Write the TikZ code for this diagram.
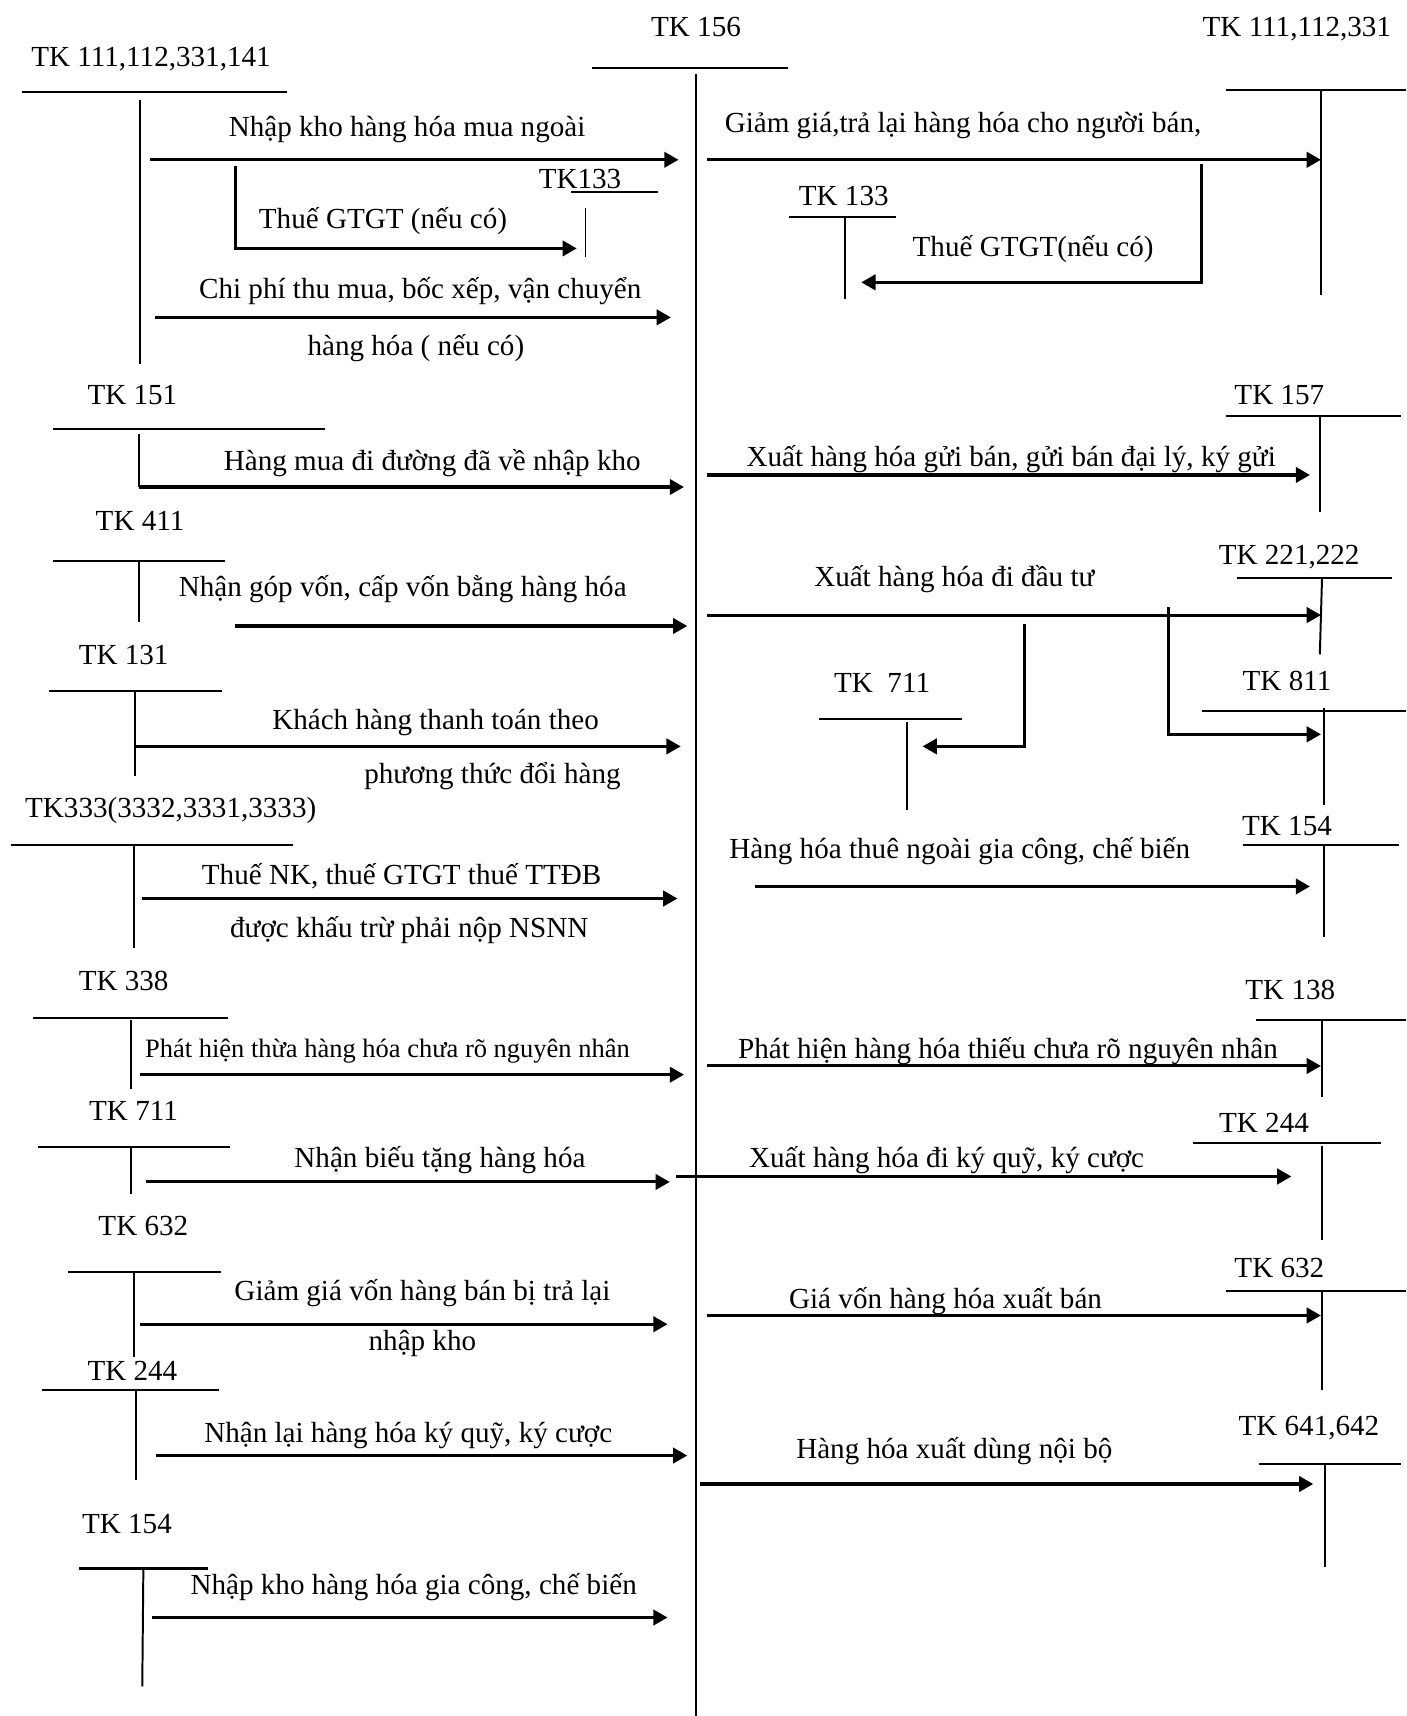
\documentclass[tikz,border=0pt]{standalone}
\usepackage{fontspec}
\setmainfont{Liberation Serif}
\usetikzlibrary{arrows.meta}
\begin{document}
\begin{tikzpicture}[x=0.5pt,y=-0.5pt,
  arr/.style={line width=1.4pt,-{Triangle[length=6.5pt,width=7pt]}},
  tline/.style={line width=0.9pt},
  thinline/.style={line width=0.5pt},
  lbl/.style={anchor=base,inner sep=0pt,font=\fontsize{13.3}{16}\selectfont},
  slbl/.style={anchor=base,inner sep=0pt,font=\fontsize{12.1}{14}\selectfont}]
\useasboundingbox (0,0) rectangle (1285,1568);
% ---------- account titles ----------
\node[lbl] (t156) at (636,33) {TK 156};
\node[lbl] (tA) at (138,61) {TK 111,112,331,141};
\node[lbl] (tB) at (1185,33) {TK 111,112,331};
\node[lbl] (t133a) at (530,172) {TK133};
\node[lbl] (t133b) at (771,188) {TK 133};
\node[lbl] (t151) at (121,370) {TK 151};
\node[lbl] (t157) at (1169,370) {TK 157};
\node[lbl] (t411) at (128,485) {TK 411};
\node[lbl] (t221) at (1178,516) {TK 221,222};
\node[lbl] (t711b) at (806,633) {TK~~711};
\node[lbl] (t811) at (1176,631) {TK 811};
\node[lbl] (t131) at (113,607) {TK 131};
\node[lbl] (t333) at (156,747) {TK333(3332,3331,3333)};
\node[lbl] (t154b) at (1176,763) {TK 154};
\node[lbl] (t338) at (113,905) {TK 338};
\node[lbl] (t138) at (1179,913) {TK 138};
\node[lbl] (t711) at (122,1024) {TK 711};
\node[lbl] (t244b) at (1155,1035) {TK 244};
\node[lbl] (t632) at (131,1129) {TK 632};
\node[lbl] (t632b) at (1169,1167) {TK 632};
\node[lbl] (t244) at (121,1261) {TK 244};
\node[lbl] (t641) at (1196,1312) {TK 641,642};
\node[lbl] (t154) at (116,1401) {TK 154};
% ---------- T-account lines ----------
\draw[tline] (541,62) -- (720,62);
\draw[tline] (636,68) -- (636,1568);
\draw[tline] (20,84) -- (262,84);  \draw[tline] (128,91) -- (128,333);
\draw[tline] (522,175) -- (601,175); \draw[tline] (535,190) -- (535,235);
\draw[tline] (1120,82) -- (1285,82); \draw[tline] (1207,82) -- (1207,270);
\draw[tline] (721,198) -- (819,198); \draw[tline] (772,198) -- (772,273);
\draw[tline] (48,392) -- (297,392); \draw[tline] (127,397) -- (127,445);
\draw[tline] (1120,380) -- (1280,380); \draw[tline] (1206,380) -- (1206,468);
\draw[tline] (48,513) -- (206,513); \draw[tline] (127,513) -- (127,568);
\draw[tline] (1130,528) -- (1272,528); \draw[tline] (1208,528) -- (1206,598);
\draw[thinline] (748,657) -- (879,657); \draw[tline] (829,660) -- (829,740);
\draw[tline] (1098,650) -- (1285,650); \draw[tline] (1210,647) -- (1210,736);
\draw[tline] (45,631) -- (203,631); \draw[tline] (123,631) -- (123,709);
\draw[tline] (10,772) -- (268,772); \draw[tline] (122,772) -- (122,866);
\draw[tline] (1136,772) -- (1278,772); \draw[tline] (1210,772) -- (1210,856);
\draw[tline] (30,930) -- (208,930); \draw[tline] (120,932) -- (120,995);
\draw[tline] (1148,932) -- (1285,932); \draw[tline] (1208,932) -- (1208,1002);
\draw[tline] (35,1048) -- (210,1048); \draw[tline] (120,1048) -- (120,1091);
\draw[tline] (1090,1044) -- (1262,1044); \draw[tline] (1208,1047) -- (1208,1133);
\draw[tline] (62,1162) -- (202,1162); \draw[tline] (122,1162) -- (122,1240);
\draw[tline] (1120,1180) -- (1285,1180); \draw[tline] (1208,1180) -- (1208,1270);
\draw[tline] (38,1270) -- (200,1270); \draw[tline] (124,1270) -- (124,1352);
\draw[tline] (1150,1338) -- (1280,1338); \draw[tline] (1211,1338) -- (1211,1432);
\draw[line width=1.6pt] (72,1433) -- (190,1433); \draw[tline] (131,1433) -- (130,1541);
% ---------- connector end points ----------
\coordinate (a1s) at (137,146);  \coordinate (a1e) at (620,146);
\coordinate (a2s) at (215,152);  \coordinate (a2e) at (527,227);
\coordinate (a3s) at (142,290);  \coordinate (a3e) at (613,290);
\coordinate (a4s) at (646,146);  \coordinate (a4e) at (1207,146);
\coordinate (a5s) at (1098,150); \coordinate (a5e) at (787,258);
\coordinate (a6s) at (127,445);  \coordinate (a6e) at (625,445);
\coordinate (a7s) at (646,434);  \coordinate (a7e) at (1197,434);
\coordinate (a8s) at (215,572);  \coordinate (a8e) at (628,572);
\coordinate (a9s) at (646,562);  \coordinate (a9e) at (1207,562);
\coordinate (a10s) at (936,570); \coordinate (a10e) at (843,682);
\coordinate (a11s) at (1068,555);\coordinate (a11e) at (1207,671);
\coordinate (a12s) at (123,682); \coordinate (a12e) at (622,682);
\coordinate (a13s) at (130,821); \coordinate (a13e) at (619,821);
\coordinate (a14s) at (690,810); \coordinate (a14e) at (1197,810);
\coordinate (a15s) at (128,982); \coordinate (a15e) at (625,982);
\coordinate (a16s) at (646,974); \coordinate (a16e) at (1207,974);
\coordinate (a17s) at (133,1080);\coordinate (a17e) at (612,1080);
\coordinate (a18s) at (618,1075);\coordinate (a18e) at (1180,1075);
\coordinate (a19s) at (128,1210);\coordinate (a19e) at (610,1210);
\coordinate (a20s) at (646,1202);\coordinate (a20e) at (1207,1202);
\coordinate (a21s) at (143,1330);\coordinate (a21e) at (628,1330);
\coordinate (a22s) at (640,1356);\coordinate (a22e) at (1200,1356);
\coordinate (a23s) at (139,1478);\coordinate (a23e) at (610,1478);
% ---------- connectors ----------
\draw[arr] (a1s) -- (a1e);
\draw[arr] (a2s) |- (a2e);
\draw[arr] (a3s) -- (a3e);
\draw[arr] (a4s) -- (a4e);
\draw[arr] (a5s) |- (a5e);
\draw[arr] (a6s) -- (a6e);
\draw[arr] (a7s) -- (a7e);
\draw[arr] (a8s) -- (a8e);
\draw[arr] (a9s) -- (a9e);
\draw[arr] (a10s) |- (a10e);
\draw[arr] (a11s) |- (a11e);
\draw[arr] (a12s) -- (a12e);
\draw[arr] (a13s) -- (a13e);
\draw[arr] (a14s) -- (a14e);
\draw[arr] (a15s) -- (a15e);
\draw[arr] (a16s) -- (a16e);
\draw[arr] (a17s) -- (a17e);
\draw[arr] (a18s) -- (a18e);
\draw[arr] (a19s) -- (a19e);
\draw[arr] (a20s) -- (a20e);
\draw[arr] (a21s) -- (a21e);
\draw[arr] (a22s) -- (a22e);
\draw[arr] (a23s) -- (a23e);
% ---------- connector labels ----------
\node[lbl] (l1) at (372,125) {Nhập kho hàng hóa mua ngoài};
\node[lbl] (l2) at (350,209) {Thuế GTGT (nếu có)};
\node[lbl] (l3a) at (384,273) {Chi phí thu mua, bốc xếp, vận chuyển};
\node[lbl] (l3b) at (380,325) {hàng hóa ( nếu có)};
\node[lbl] (l4) at (880,121) {Giảm giá,trả lại hàng hóa cho người bán,};
\node[lbl] (l5) at (944,234) {Thuế GTGT(nếu có)};
\node[lbl] (l6) at (395,430) {Hàng mua đi đường đã về nhập kho};
\node[lbl] (l7) at (924,426) {Xuất hàng hóa gửi bán, gửi bán đại lý, ký gửi};
\node[lbl] (l8) at (368,545) {Nhận góp vốn, cấp vốn bằng hàng hóa};
\node[lbl] (l9) at (872,536) {Xuất hàng hóa đi đầu tư};
\node[lbl] (l12a) at (398,667) {Khách hàng thanh toán theo};
\node[lbl] (l12b) at (450,716) {phương thức đổi hàng};
\node[lbl] (l14) at (877,784) {Hàng hóa thuê ngoài gia công, chế biến};
\node[lbl] (l13a) at (367,808) {Thuế NK, thuế GTGT thuế TTĐB};
\node[lbl] (l13b) at (374,857) {được khấu trừ phải nộp NSNN};
\node[slbl] (l15) at (354,966) {Phát hiện thừa hàng hóa chưa rõ nguyên nhân};
\node[lbl] (l16) at (921,967) {Phát hiện hàng hóa thiếu chưa rõ nguyên nhân};
\node[lbl] (l17) at (402,1067) {Nhận biếu tặng hàng hóa};
\node[lbl] (l18) at (865,1067) {Xuất hàng hóa đi ký quỹ, ký cược};
\node[lbl] (l19a) at (386,1188) {Giảm giá vốn hàng bán bị trả lại};
\node[lbl] (l19b) at (386,1234) {nhập kho};
\node[lbl] (l20) at (864,1196) {Giá vốn hàng hóa xuất bán};
\node[lbl] (l21) at (373,1318) {Nhận lại hàng hóa ký quỹ, ký cược};
\node[lbl] (l22) at (872,1333) {Hàng hóa xuất dùng nội bộ};
\node[lbl] (l23) at (378,1457) {Nhập kho hàng hóa gia công, chế biến};
\end{tikzpicture}
\end{document}
